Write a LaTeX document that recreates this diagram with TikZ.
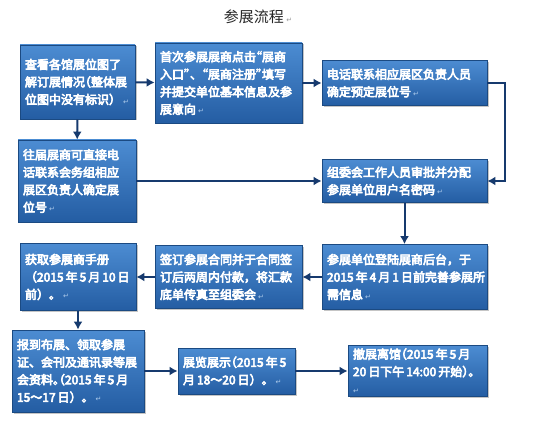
\documentclass[tikz,border=0pt]{standalone}
\usepackage{fontspec}
\setmainfont{Noto Sans CJK SC}
\newfontfamily\boxfont{Noto Sans CJK SC}[FakeBold=5]
\newfontfamily\symfont{DejaVu Sans}
\usetikzlibrary{arrows.meta,shadows,backgrounds}

\definecolor{boxtop}{HTML}{4C8CD2}
\definecolor{boxbot}{HTML}{245DA3}
\definecolor{boxline}{HTML}{1B4A82}
\definecolor{arrowblue}{HTML}{163A6E}
\definecolor{shine}{HTML}{C9D8EA}
\newcommand{\pmark}{\hspace{2pt}{\symfont\fontsize{7}{7}\selectfont\color{white!55!boxtop}↵}}
% half-width punctuation
\newcommand{\oq}{\makebox[0.5em][r]{“}}
\newcommand{\cq}{\makebox[0.5em][l]{”}}
\newcommand{\op}{\makebox[0.5em][r]{（}}
\newcommand{\cp}{\makebox[0.5em][l]{）}}
\newcommand{\hstop}{\makebox[0.5em][l]{。}}

\tikzset{
  stepbox/.style={rectangle,draw=boxline,line width=0.8pt,
    top color=boxtop,bottom color=boxbot,text=white,
    align=left,inner xsep=5pt,inner ysep=3pt,
    font=\boxfont\fontsize{12}{17.5}\selectfont,
    drop shadow={opacity=0.45,shadow xshift=1.5pt,shadow yshift=-1.5pt}},
  flow/.style={-{Latex[length=8pt,width=9pt]},line width=2pt,draw=arrowblue},
  shine/.style={top color=shine,bottom color=white,draw=none}
}

\begin{document}
\begin{tikzpicture}[x=1pt,y=-1pt]
\useasboundingbox[fill=white] (0,0) rectangle (551,446);

\node[font=\fontsize{15}{15}\selectfont,text=black!85] (title) at (258,17)
  {参展流程\,{\symfont\fontsize{7}{7}\selectfont\color{black!40}↵}};

% first row
\node[stepbox,minimum width=115pt,minimum height=74pt,text width=105pt] (look) at (77.5,82)
  {查看各馆展位图了\\解订展情况\op 整体展\\位图中没有标识）\pmark};
\node[stepbox,minimum width=147pt,minimum height=80pt,text width=137pt] (first) at (228.5,83)
  {首次参展展商点击\oq 展商\\入口\cq 、\oq 展商注册\cq 填写\\并提交单位基本信息及参\\展意向\pmark};
\node[stepbox,minimum width=165pt,minimum height=45pt,text width=155pt] (phone) at (404.5,83)
  {电话联系相应展区负责人员\\确定预定展位号\pmark};

% second row
\node[stepbox,minimum width=118pt,minimum height=82pt,text width=108pt] (old) at (77,181)
  {往届展商可直接电\\话联系会务组相应\\展区负责人确定展\\位号\pmark};
\node[stepbox,minimum width=165pt,minimum height=43pt,text width=155pt] (approve) at (404.5,181)
  {组委会工作人员审批并分配\\参展单位用户名密码\pmark};

% third row
\node[stepbox,minimum width=116pt,minimum height=67pt,text width=106pt] (manual) at (78,277)
  {获取参展商手册\\（2015\,年\,5\,月\,10\,日\\前）。\pmark};
\node[stepbox,minimum width=147pt,minimum height=63pt,text width=137pt] (contract) at (228.5,277)
  {签订参展合同并于合同签\\订后两周内付款，将汇款\\底单传真至组委会\pmark};
\node[stepbox,minimum width=165pt,minimum height=65pt,text width=155pt] (login) at (404.5,277)
  {参展单位登陆展商后台，于\\2015\,年\,4\,月\,1\,日前完善参展所\\需信息\pmark};

% fourth row
\node[stepbox,minimum width=132pt,minimum height=82pt,text width=122pt] (arrive) at (78,371)
  {报到布展、领取参展\\证、会刊及通讯录等展\\会资料\hstop\op 2015\,年\,5\,月\\15～17\,日）。\pmark};
\node[stepbox,minimum width=117pt,minimum height=46pt,text width=107pt] (show) at (236.5,371)
  {展览展示\op 2015\,年\,5\\月\,18～20\,日）。\pmark};
\node[stepbox,minimum width=139pt,minimum height=50pt,text width=129pt] (leave) at (417.5,371)
  {撤展离馆\op 2015\,年\,5\,月\\20\,日下午\,14:00\,开始\cp 。\pmark};

% faded reflections under the boxes
\begin{scope}[on background layer]
  \foreach \b/\h in {look/20,first/46,phone/28,old/18,approve/30,
                     manual/17,contract/35,login/33,arrive/27,show/26,leave/31}
    \path[shine] ([yshift=-2pt]\b.south west) rectangle ([yshift=-\h pt]\b.south east);
\end{scope}

\draw[flow] (look) -- (first);
\draw[flow] (first) -- (phone);
\draw[flow] (phone.east) -- ++(18,0) |- (approve.east);
\draw[flow] (look) -- (old);
\draw[flow] (old) -- (approve);
\draw[flow] (approve) -- (login);
\draw[flow] (login) -- (contract);
\draw[flow] (contract) -- (manual);
\draw[flow] (manual) -- (arrive);
\draw[flow] (arrive) -- (show);
\draw[flow] (show) -- (leave);
\end{tikzpicture}
\end{document}
